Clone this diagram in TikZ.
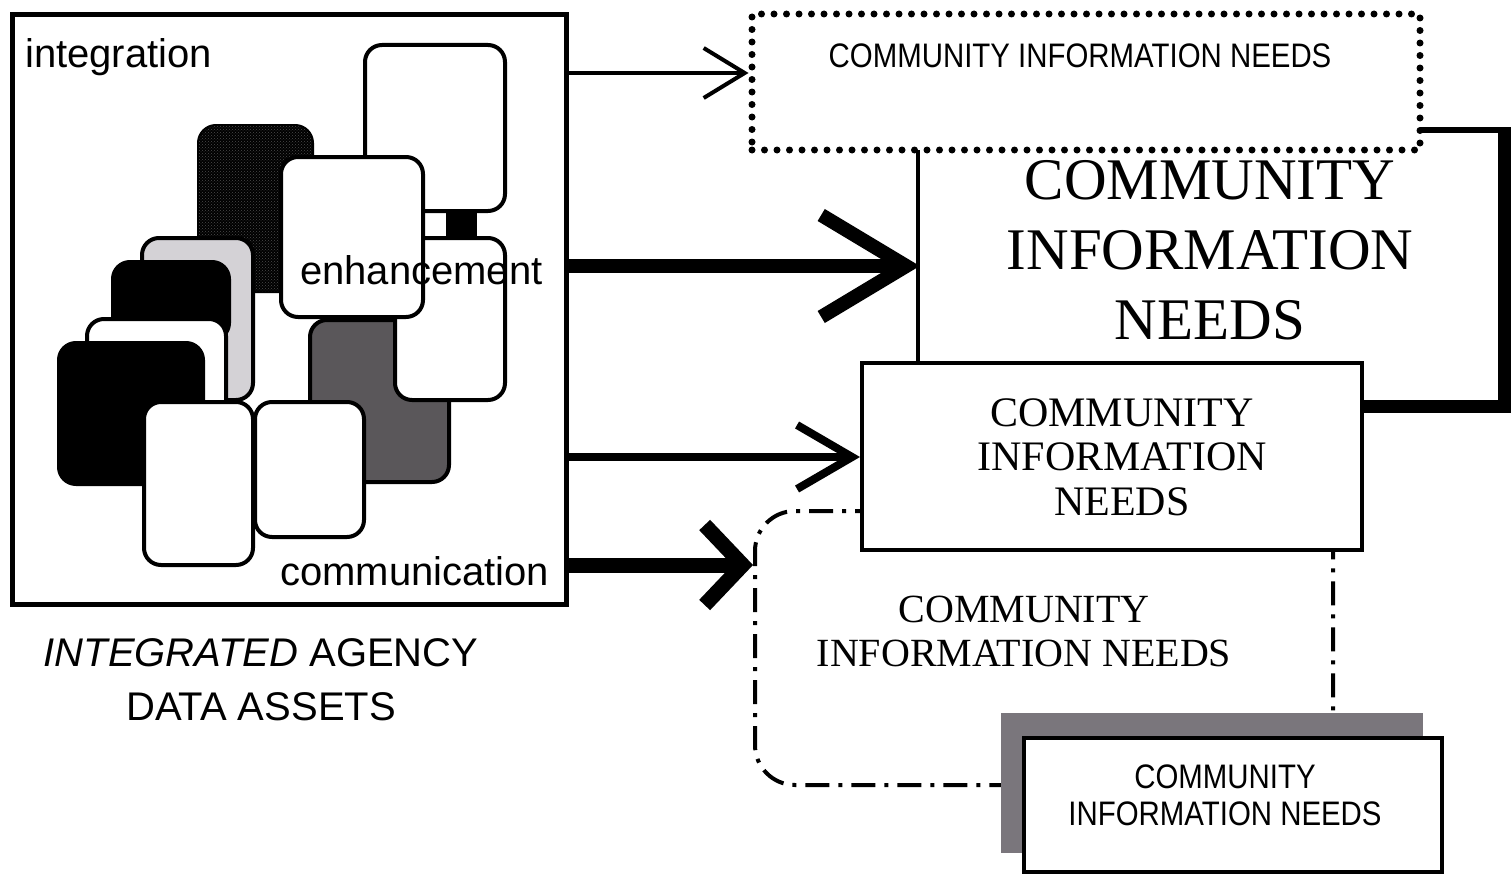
\documentclass[tikz,border=0pt]{standalone}
\usepackage{fontspec}
\usetikzlibrary{arrows.meta,patterns,positioning}
\newfontfamily\arialfont{Liberation Sans}
\newfontfamily\narrowfont[FakeStretch=0.865]{Liberation Sans}
\newfontfamily\timesfont{Liberation Serif}
\definecolor{lightblock}{RGB}{212,210,214}
\definecolor{darkblock}{RGB}{90,87,90}
\definecolor{shadowgrey}{RGB}{122,118,124}
\begin{document}
\begin{tikzpicture}[x=1pt,y=-1pt,
  block/.style={draw=black,line width=4pt,rounded corners=17pt,fill=white},
  lbl/.style={font=\arialfont\fontsize{40}{48}\selectfont,inner sep=0pt},
  needsbox/.style={draw=black,fill=white,inner sep=0pt},
  thinarrow/.style={line width=4pt,-{Straight Barb[length=41pt,width=50pt]}},
  midarrow/.style={line width=8pt,-{Straight Barb[length=55pt,width=64pt]}},
  fatarrow/.style={line width=14pt,-{Straight Barb[length=85pt,width=102pt]}},
  stubarrow/.style={line width=15pt,-{Straight Barb[length=38pt,width=80pt]}}]
  \useasboundingbox[fill=white] (0,0) rectangle (1511,875);

  % data assets
  \node[draw=black,line width=5pt,minimum width=554pt,minimum height=589pt,inner sep=0pt] (assets) at (289,309.5) {};
  \filldraw[block] (365,45) rectangle (505,211);
  \filldraw[block,draw=black,fill=black,postaction={pattern=crosshatch dots,pattern color=gray!60!black}] (199,126) rectangle (312,291);
  \fill[black] (446,211) rectangle (477,238);
  \filldraw[block,fill=darkblock] (310,320) rectangle (449,482);
  \filldraw[block] (395,238) rectangle (505,400);
  \filldraw[block] (281,157) rectangle (423,317);
  \filldraw[block,fill=lightblock] (142,238) rectangle (253,400);
  \filldraw[block,fill=black] (113,262) rectangle (229,340);
  \filldraw[block] (87,319) rectangle (226,430);
  \filldraw[block,fill=black] (59,343) rectangle (203,484);
  \filldraw[block] (144,402) rectangle (253,565);
  \filldraw[block] (255,402) rectangle (364,537);
  \node[lbl,anchor=base west] (integ) at (25,67) {integration};
  \node[lbl,anchor=base west] (enhance) at (300,284) {enhancement};
  \node[lbl,anchor=base west] (commun) at (280,585) {communication};
  \node[lbl,anchor=north,align=center,font=\arialfont\fontsize{40}{54}\selectfont] (caption) at (261,638)
    {\textit{INTEGRATED} AGENCY\\DATA ASSETS};

  % information needs
  \node[needsbox,line width=4pt,dashed,dash pattern=on 24pt off 9pt on 4pt off 9pt,rounded corners=40pt,
    minimum width=578pt,minimum height=274pt] (needsdash) at (1044,648) {};
  \fill[black] (916,127) rectangle (1511,413);
  \node[fill=white,minimum width=578pt,minimum height=267pt,inner sep=0pt] (needsbig) at (1209,266.5) {};
  \node[needsbox,line width=7pt,line cap=round,dash pattern=on 0pt off 12.5pt,
    minimum width=668pt,minimum height=136pt] (needstop) at (1086,82) {};
  \node[needsbox,line width=4pt,minimum width=500pt,minimum height=187pt] (needsmid) at (1112,456.5) {};
  \fill[shadowgrey] (1001,713) rectangle (1423,853);
  \node[needsbox,line width=4pt,minimum width=418pt,minimum height=134pt] (needslow) at (1233,805) {};

  \node[inner sep=0pt,anchor=base,font=\narrowfont\fontsize{34}{37}\selectfont] (toptext) at (1080,67) {COMMUNITY INFORMATION NEEDS};
  \node[inner sep=0pt,anchor=north,align=center,font=\timesfont\fontsize{59}{70}\selectfont] (bigtext) at (1210,160) {COMMUNITY\\INFORMATION\\NEEDS};
  \node[inner sep=0pt,anchor=north,align=center,font=\timesfont\fontsize{42}{44.5}\selectfont] (midtext) at (1122,398) {COMMUNITY\\INFORMATION\\NEEDS};
  \node[inner sep=0pt,anchor=north,align=center,font=\timesfont\fontsize{40}{44}\selectfont] (dashtext) at (1024,596) {COMMUNITY\\INFORMATION NEEDS};
  \node[inner sep=0pt,anchor=north,align=center,font=\narrowfont\fontsize{34}{37}\selectfont] (lowtext) at (1225,765) {COMMUNITY\\INFORMATION NEEDS};

  \draw[thinarrow] (assets.east |- 0,73) -- (needstop.west |- 0,73);
  \draw[fatarrow] (assets.east |- 0,266) -- (needsbig.west |- 0,266);
  \draw[midarrow] (assets.east |- 0,457) -- (needsmid.west |- 0,457);
  \draw[stubarrow] (assets.east |- 0,565) -- (needsdash.west |- 0,565);
\end{tikzpicture}
\end{document}
